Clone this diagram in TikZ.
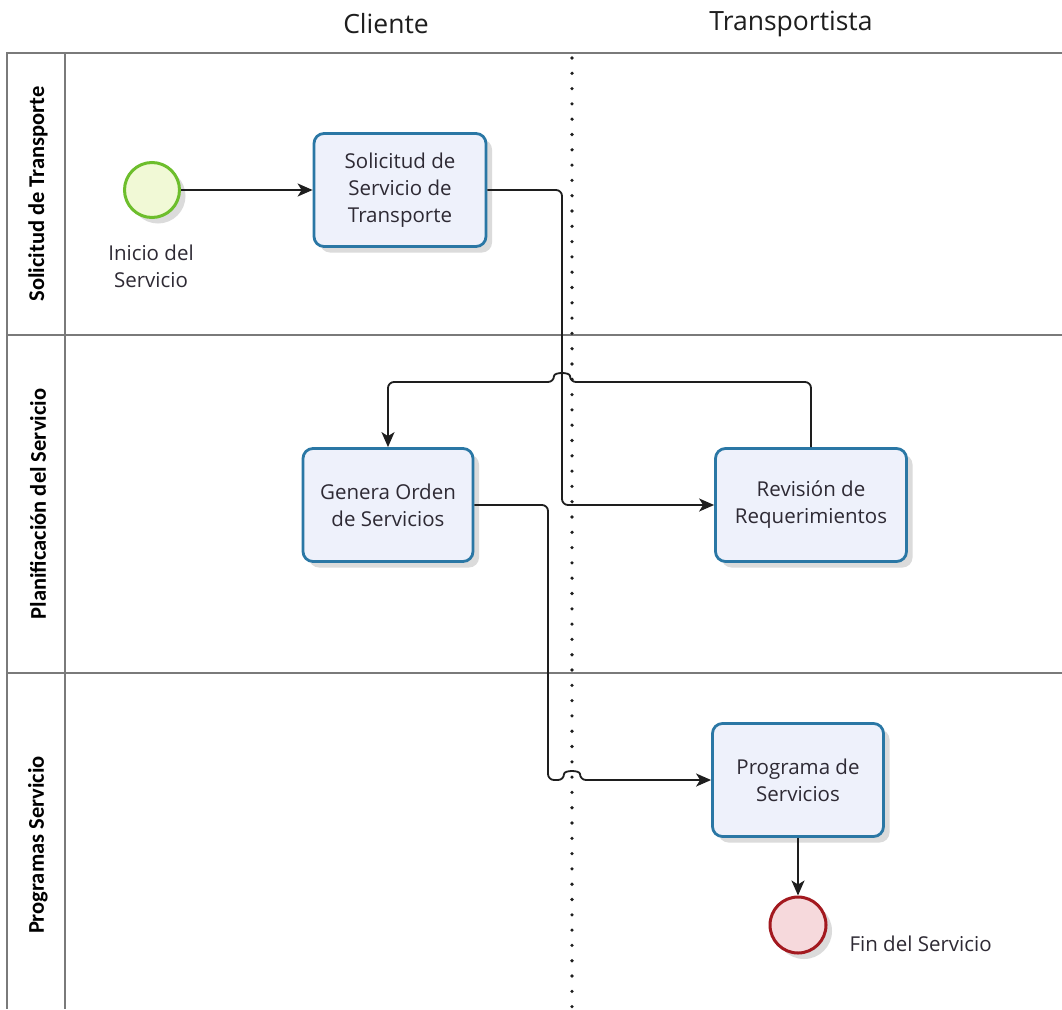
\documentclass[tikz,border=0pt]{standalone}
\usepackage{fontspec}
\setmainfont{Open Sans}
\newfontfamily\lanefont{Carlito}
\usetikzlibrary{arrows.meta,shadows,calc}

\definecolor{laneline}{HTML}{7A7A7A}
\definecolor{taskline}{HTML}{2A77A5}
\definecolor{taskfill}{HTML}{EEF1FB}
\definecolor{flowcol}{HTML}{1E1E1E}
\definecolor{textcol}{HTML}{2E2A34}
\definecolor{startline}{HTML}{6DBE2C}
\definecolor{startfill}{HTML}{F1F9D6}
\definecolor{endline}{HTML}{A3191F}
\definecolor{endfill}{HTML}{F6D9DC}

\begin{document}
\begin{tikzpicture}[x=1pt,y=-1pt,
  lanerule/.style={draw=laneline, line width=2pt},
  lanetitle/.style={rotate=90, font=\lanefont\bfseries\fontsize{22.5}{24}\selectfont, text=black},
  colhead/.style={font=\fontsize{26.5}{30}\selectfont, text=flowcol},
  softshadow/.style={drop shadow={opacity=0.2, shadow xshift=6pt, shadow yshift=-6pt, fill=black!70}},
  task/.style={draw=taskline, line width=2.8pt, rounded corners=10pt, fill=taskfill,
    minimum height=113pt, align=center, inner sep=0pt,
    font=\fontsize{20.5}{27}\selectfont, text=textcol, softshadow},
  startev/.style={circle, draw=startline, fill=startfill, line width=3pt, minimum size=55pt, inner sep=0pt, softshadow},
  endev/.style={circle, draw=endline, fill=endfill, line width=3pt, minimum size=56pt, inner sep=0pt, softshadow},
  evlabel/.style={font=\fontsize{20.5}{27}\selectfont, text=textcol, align=center},
  flow/.style={draw=flowcol, line width=1.8pt, rounded corners=6pt,
    -{Stealth[length=15pt, width=13pt, inset=4pt]}},
  lanedots/.style={draw=flowcol, line width=3.6pt, line cap=round, dash pattern=on 0pt off 15.3pt},
]
\useasboundingbox (0,0) rectangle (1062,1009);
\fill[white] (0,0) rectangle (1062,1009);

% pool frame and lanes
\draw[lanerule] (1062,53) -- (7,53) -- (7,1009);
\draw[lanerule] (65,53) -- (65,1009);
\draw[lanerule] (7,335) -- (1062,335);
\draw[lanerule] (7,673) -- (1062,673);

% column separator between the two participants
\draw[lanedots] (572,58) -- (572,1009);

% column headers
\node[colhead] (hcli) at (386,24) {Cliente};
\node[colhead] (htra) at (791,24) {Transportista};

% lane titles
\node[lanetitle] (l1) at (38,194) {Solicitud de Transporte};
\node[lanetitle] (l2) at (38,504) {Planificación del Servicio};
\node[lanetitle] (l3) at (38,845) {Programas Servicio};

% events
\node[startev] (start) at (152,190) {};
\node[evlabel] (startlbl) at (151,266) {Inicio del\\Servicio};
\node[endev] (fin) at (798,925) {};
\node[evlabel, anchor=west] (finlbl) at (846,944) {Fin del Servicio};

% tasks
\node[task, minimum width=172pt] (t1) at (400,190) {Solicitud de\\Servicio de\\Transporte};
\node[task, minimum width=170pt] (t2) at (388,505) {Genera Orden\\de Servicios};
\node[task, minimum width=191pt] (t3) at (811,505) {Revisión de\\Requerimientos};
\node[task, minimum width=171pt] (t4) at (798,780) {Programa de\\Servicios};

% routing guides
\coordinate (v1) at (562,0);
\coordinate (v2) at (548,0);
\coordinate (top) at (0,382);
\coordinate (hopA) at (562,382);
\coordinate (hopB) at (572,780);

% sequence flows
\draw[flow] (start) -- (t1);
\draw[flow] (t1.east) -- (t1.east -| v1) -- (t3.west -| v1) -- (t3.west);
\draw[flow] (t3.north) -- (t3.north |- top) -- ($(hopA)+(8,0)$)
  .. controls ($(hopA)+(8,-10)$) and ($(hopA)+(-8,-10)$) .. ($(hopA)+(-8,0)$)
  -- (t2.north |- top) -- (t2.north);
\draw[flow] (t2.east) -- (t2.east -| v2) -- (t4.west -| v2) -- ($(hopB)+(-8,0)$)
  .. controls ($(hopB)+(-8,-10)$) and ($(hopB)+(8,-10)$) .. ($(hopB)+(8,0)$)
  -- (t4.west);
\draw[flow] (t4.south) -- (fin.north);
\end{tikzpicture}
\end{document}
